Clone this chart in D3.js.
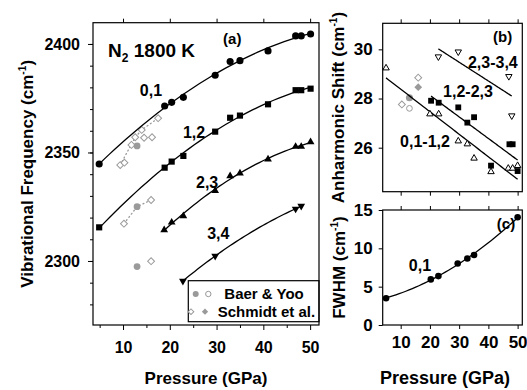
<!DOCTYPE html>
<html>
<head>
<meta charset="utf-8">
<script src="https://cdn.jsdelivr.net/npm/d3@7"></script>
<style>
  body { margin: 0; background: #fff; }
  svg { display: block; }
</style>
</head>
<body>
<div id="chart"></div>
<script>
// ---- panel (a): vibrational frequency (cm-1) vs pressure (GPa), N2 at 1800 K
const pressA = [4.9, 18.9, 20.4, 22.9, 29.7, 32.9, 35.0, 41.0, 46.9, 48.1, 50.1];
const nu01 = [2344.7, 2371.4, 2373.1, 2375.4, 2385.6, 2391.9, 2392.3, 2396.8, 2403.7, 2403.7, 2404.6];
const nu12 = [2315.5, 2343.0, 2345.8, 2348.4, 2359.6, 2366.0, 2367.0, 2372.2, 2378.7, 2378.7, 2379.4];
const pressA23 = [18.8, 20.4, 22.9, 29.7, 32.9, 35.0, 41.0, 46.9, 48.1, 50.1];
const nu23 = [2314.3, 2317.8, 2320.7, 2332.4, 2339.2, 2340.4, 2346.9, 2352.7, 2352.7, 2354.8];
const pressA34 = [22.8, 29.7, 46.9, 48.1];
const nu34 = [2290.8, 2302.3, 2324.0, 2325.3];

// literature points (grey)
const baerP = [13.0, 13.0, 13.0];
const baerNu = [2353.0, 2325.0, 2297.4];
const schmidtP = [9.4, 10.3, 11.8, 12.6, 14.0, 14.5, 16.2, 17.5, 10.2, 16.0, 16.0];
const schmidtNu = [2344.2, 2345.3, 2353.5, 2357.0, 2360.4, 2356.8, 2357.0, 2365.8, 2317.2, 2328.1, 2299.9];
const schmidtDotUpP = [9.4, 12.6, 14.0, 17.5];
const schmidtDotUpNu = [2344.2, 2357.0, 2360.4, 2365.8];
const schmidtDotLoP = [10.2, 13.0, 16.0];
const schmidtDotLoNu = [2317.2, 2325.0, 2328.1];

// ---- panel (b): anharmonic shift (cm-1)
const pressB01 = [5.0, 20.0, 23.0, 29.7, 32.8, 35.1, 40.9, 46.8, 48.3, 50.0];
const shift01 = [29.24, 27.37, 27.37, 26.27, 26.15, 25.57, 25.02, 25.16, 25.16, 25.27];
const pressB12 = [20.4, 23.0, 29.7, 32.8, 35.1, 40.9, 47.2, 48.3, 50.0];
const shift12 = [27.91, 27.83, 27.64, 27.02, 27.24, 25.27, 26.14, 26.14, 25.05];
const pressB23 = [22.9, 29.7, 47.0, 48.0];
const shift23 = [29.70, 29.90, 28.90, 27.30];
const baerShiftP = [13.0, 13.0];
const baerShift = [28.03, 27.60];      // filled, open
const schmidtShiftP = [10.4, 16.0, 16.0];
const schmidtShift = [27.76, 28.85, 28.46]; // open, open, filled

// ---- panel (c): FWHM (cm-1) of 0,1
const pressC = [5.0, 20.3, 22.9, 29.5, 32.8, 35.1, 50.0];
const fwhm = [3.49, 5.95, 6.38, 8.02, 8.67, 9.13, 14.05];

// tick values
const pressTicks = [10, 20, 30, 40, 50];
const pressMinor = [5, 15, 25, 35, 45];
const nuTicks = [2300, 2350, 2400];
const shiftTicks = [26, 28, 30];
const fwhmTicks = [0, 5, 10, 15];

const FONT = '"Liberation Sans", Arial, Helvetica, sans-serif';
const GREY = '#9a9a9a';
const fmt = d3.format('d');

const svg = d3.select('#chart').append('svg')
  .attr('width', 527).attr('height', 390)
  .attr('font-family', FONT).attr('font-weight', 'bold');

// scales
const xa = d3.scaleLinear().domain([3.58, 51.9]).range([93, 319]);
const ya = d3.scaleLinear().domain([2270.5, 2409.8]).range([325, 22.7]);
const xb = d3.scaleLinear().domain([3.85, 51.6]).range([382.7, 522.3]);
const yb = d3.scaleLinear().domain([24.21, 31.06]).range([191.7, 23.3]);
const yc = d3.scaleLinear().domain([0, 15]).range([325, 210]);

// least squares polynomial fit
function polyfit(xs, ys, deg) {
  const n = deg + 1;
  const A = d3.range(n).map(i => d3.range(n).map(j => d3.sum(xs, x => Math.pow(x, i + j))));
  const b = d3.range(n).map(i => d3.sum(xs, (x, k) => Math.pow(x, i) * ys[k]));
  for (let i = 0; i < n; i++) {
    for (let r = i + 1; r < n; r++) {
      const f = A[r][i] / A[i][i];
      for (let c = i; c < n; c++) A[r][c] -= f * A[i][c];
      b[r] -= f * b[i];
    }
  }
  const coef = new Array(n).fill(0);
  for (let i = n - 1; i >= 0; i--) {
    let s = b[i];
    for (let c = i + 1; c < n; c++) s -= A[i][c] * coef[c];
    coef[i] = s / A[i][i];
  }
  return coef;
}

function fitCurve(xs, ys, deg) {
  const c = polyfit(xs, ys, deg);
  const lo = d3.min(xs), hi = d3.max(xs);
  return d3.range(41).map(i => {
    const x = lo + (hi - lo) * i / 40;
    return [x, c.reduce((s, a, k) => s + a * Math.pow(x, k), 0)];
  });
}

function drawFit(g, x, y, xs, ys, deg) {
  const line = d3.line().x(d => x(d[0])).y(d => y(d[1])).curve(d3.curveMonotoneX);
  g.append('path')
    .datum(fitCurve(xs, ys, deg))
    .attr('fill', 'none')
    .attr('stroke', '#000')
    .attr('stroke-width', 1.3)
    .attr('d', line);
}

function drawPoints(g, x, y, xs, ys, o) {
  g.append('g').selectAll('path')
    .data(xs.map((p, i) => [p, ys[i]]))
    .join('path')
    .attr('d', d3.symbol().type(o.type).size(o.size))
    .attr('transform', d => `translate(${x(d[0])},${y(d[1])}) rotate(${o.rotate || 0})`)
    .attr('fill', o.fill)
    .attr('stroke', o.stroke || 'none')
    .attr('stroke-width', o.sw || 1);
}

function styleAxis(g, size) {
  g.attr('font-family', FONT).attr('font-size', size).attr('font-weight', 'bold');
  g.select('.domain').remove();
  g.selectAll('line').attr('stroke', '#000');
}

function frame(x, y) {
  const [x0, x1] = x.range(), [y0, y1] = y.range();
  svg.append('rect')
    .attr('x', x0).attr('y', y1)
    .attr('width', x1 - x0).attr('height', y0 - y1)
    .attr('fill', 'none').attr('stroke', '#000').attr('stroke-width', 1.2);
}

function supLabel(g, tx, ty, main, size) {
  const t = g.append('text')
    .attr('transform', `translate(${tx},${ty}) rotate(-90)`)
    .attr('text-anchor', 'middle')
    .attr('font-size', size);
  t.append('tspan').text(main + ' (cm');
  t.append('tspan').attr('font-size', size * 0.6).attr('dy', -size * 0.42).text('-1');
  t.append('tspan').attr('dy', size * 0.42).text(')');
}

// ================= panel (a) =================
const ga = svg.append('g');

ga.append('g').attr('transform', 'translate(0,325)')
  .call(d3.axisBottom(xa).tickValues(pressMinor).tickSize(3).tickFormat(''))
  .call(g => styleAxis(g, 16));
ga.append('g').attr('transform', 'translate(0,325)')
  .call(d3.axisBottom(xa).tickValues(pressTicks).tickSize(5).tickPadding(12).tickFormat(fmt))
  .call(g => styleAxis(g, 16));
ga.append('g').attr('transform', 'translate(0,22.7)')
  .call(d3.axisTop(xa).tickValues(pressTicks).tickSize(4).tickFormat(''))
  .call(g => styleAxis(g, 16));
ga.append('g').attr('transform', 'translate(93,0)')
  .call(d3.axisLeft(ya).tickValues(d3.range(2280, 2410, 10)).tickSize(3).tickFormat(''))
  .call(g => styleAxis(g, 16));
ga.append('g').attr('transform', 'translate(93,0)')
  .call(d3.axisLeft(ya).tickValues(nuTicks).tickSize(5).tickPadding(8).tickFormat(fmt))
  .call(g => styleAxis(g, 16));
frame(xa, ya);

// grey literature points with dotted connectors
const dotted = d3.line().x(d => xa(d[0])).y(d => ya(d[1]));
[[schmidtDotUpP, schmidtDotUpNu], [schmidtDotLoP, schmidtDotLoNu]].forEach(([ps, vs]) => {
  ga.append('path')
    .datum(ps.map((p, i) => [p, vs[i]]))
    .attr('fill', 'none').attr('stroke', GREY).attr('stroke-width', 1.3)
    .attr('stroke-dasharray', '1,3').attr('stroke-linecap', 'round')
    .attr('d', dotted);
});
drawPoints(ga, xa, ya, schmidtP, schmidtNu, { type: d3.symbolSquare, size: 24, rotate: 45, fill: '#fff', stroke: GREY, sw: 1 });
drawPoints(ga, xa, ya, baerP, baerNu, { type: d3.symbolCircle, size: 36, fill: GREY });

// fits and measured points
drawFit(ga, xa, ya, pressA, nu01, 2);
drawFit(ga, xa, ya, pressA, nu12, 2);
drawFit(ga, xa, ya, pressA23, nu23, 2);
drawFit(ga, xa, ya, pressA34, nu34, 2);
drawPoints(ga, xa, ya, pressA, nu01, { type: d3.symbolCircle, size: 40, fill: '#000' });
drawPoints(ga, xa, ya, pressA, nu12, { type: d3.symbolSquare, size: 38, fill: '#000' });
drawPoints(ga, xa, ya, pressA23, nu23, { type: d3.symbolTriangle, size: 26, fill: '#000' });
drawPoints(ga, xa, ya, pressA34, nu34, { type: d3.symbolTriangle, size: 26, rotate: 180, fill: '#000' });

// annotations
const tN = ga.append('text').attr('x', xa(6.8)).attr('y', ya(2394.0)).attr('font-size', 19);
tN.append('tspan').text('N');
tN.append('tspan').attr('font-size', 12).attr('dy', 5).text('2');
tN.append('tspan').attr('dy', -5).text(' 1800 K');
ga.append('text').attr('x', xa(31.4)).attr('y', ya(2400.0)).attr('font-size', 15).text('(a)');
ga.append('text').attr('x', xa(13.6)).attr('y', ya(2376.0)).attr('font-size', 16).text('0,1');
ga.append('text').attr('x', xa(22.8)).attr('y', ya(2356.7)).attr('font-size', 16).text('1,2');
ga.append('text').attr('x', xa(25.6)).attr('y', ya(2333.6)).attr('font-size', 16).text('2,3');
ga.append('text').attr('x', xa(28.0)).attr('y', ya(2310.1)).attr('font-size', 16).text('3,4');

// legend
const lg = ga.append('g');
lg.append('rect').attr('x', 188.3).attr('y', 280.7).attr('width', 130.7).attr('height', 41)
  .attr('fill', '#fff').attr('stroke', '#000').attr('stroke-width', 1.2);
lg.append('circle').attr('cx', 195.7).attr('cy', 294).attr('r', 3).attr('fill', GREY);
lg.append('circle').attr('cx', 208.3).attr('cy', 294).attr('r', 2.7).attr('fill', '#fff').attr('stroke', GREY);
lg.append('path').attr('d', d3.symbol().type(d3.symbolSquare).size(16)())
  .attr('transform', 'translate(191,311.7) rotate(45)').attr('fill', '#fff').attr('stroke', GREY);
lg.append('path').attr('d', d3.symbol().type(d3.symbolSquare).size(20)())
  .attr('transform', 'translate(205,311.7) rotate(45)').attr('fill', GREY);
lg.append('text').attr('x', 224.3).attr('y', 298.5).attr('font-size', 15).text('Baer & Yoo');
lg.append('text').attr('x', 217.7).attr('y', 316.7).attr('font-size', 15).text('Schmidt et al.');

ga.append('text').attr('x', 206).attr('y', 383.5).attr('text-anchor', 'middle').attr('font-size', 17).text('Pressure (GPa)');
supLabel(ga, 33, 173.9, 'Vibrational Frequency', 17);

// ================= panel (b) =================
const gb = svg.append('g');
gb.append('g').attr('transform', 'translate(0,191.7)')
  .call(d3.axisBottom(xb).tickValues(pressTicks).tickSize(4).tickFormat(''))
  .call(g => styleAxis(g, 17));
gb.append('g').attr('transform', 'translate(0,23.3)')
  .call(d3.axisTop(xb).tickValues(pressTicks).tickSize(4).tickFormat(''))
  .call(g => styleAxis(g, 17));
gb.append('g').attr('transform', 'translate(382.7,0)')
  .call(d3.axisLeft(yb).tickValues(shiftTicks).tickSize(4).tickPadding(6).tickFormat(fmt))
  .call(g => styleAxis(g, 17));
frame(xb, yb);

drawPoints(gb, xb, yb, [schmidtShiftP[0], schmidtShiftP[1]], [schmidtShift[0], schmidtShift[1]],
  { type: d3.symbolSquare, size: 24, rotate: 45, fill: '#fff', stroke: GREY });
drawPoints(gb, xb, yb, [schmidtShiftP[2]], [schmidtShift[2]], { type: d3.symbolSquare, size: 30, rotate: 45, fill: GREY });
drawPoints(gb, xb, yb, [baerShiftP[0]], [baerShift[0]], { type: d3.symbolCircle, size: 40, fill: GREY });
drawPoints(gb, xb, yb, [baerShiftP[1]], [baerShift[1]], { type: d3.symbolCircle, size: 26, fill: '#fff', stroke: GREY });

drawFit(gb, xb, yb, pressB01, shift01, 1);
drawFit(gb, xb, yb, pressB12, shift12, 1);
drawFit(gb, xb, yb, pressB23, shift23, 1);
drawPoints(gb, xb, yb, pressB01, shift01, { type: d3.symbolTriangle, size: 18, fill: '#fff', stroke: '#000' });
drawPoints(gb, xb, yb, pressB12, shift12, { type: d3.symbolSquare, size: 34, fill: '#000' });
drawPoints(gb, xb, yb, pressB23, shift23, { type: d3.symbolTriangle, size: 18, rotate: 180, fill: '#fff', stroke: '#000' });

gb.append('text').attr('x', xb(41.6)).attr('y', yb(30.30)).attr('font-size', 15).text('(b)');
gb.append('text').attr('x', xb(33.0)).attr('y', yb(29.24)).attr('font-size', 16).text('2,3-3,4');
gb.append('text').attr('x', xb(24.5)).attr('y', yb(28.08)).attr('font-size', 16).text('1,2-2,3');
gb.append('text').attr('x', xb(9.8)).attr('y', yb(26.04)).attr('font-size', 16).text('0,1-1,2');
supLabel(gb, 344, 107.5, 'Anharmonic Shift', 17);

// ================= panel (c) =================
const gc = svg.append('g');
gc.append('g').attr('transform', 'translate(0,325)')
  .call(d3.axisBottom(xb).tickValues(pressTicks).tickSize(4).tickPadding(7).tickFormat(fmt))
  .call(g => styleAxis(g, 17));
gc.append('g').attr('transform', 'translate(0,210)')
  .call(d3.axisTop(xb).tickValues(pressTicks).tickSize(4).tickFormat(''))
  .call(g => styleAxis(g, 17));
gc.append('g').attr('transform', 'translate(382.7,0)')
  .call(d3.axisLeft(yc).tickValues(fwhmTicks).tickSize(4).tickPadding(6).tickFormat(fmt))
  .call(g => styleAxis(g, 17));
svg.append('rect').attr('x', 382.7).attr('y', 210).attr('width', 522.3 - 382.7).attr('height', 115)
  .attr('fill', 'none').attr('stroke', '#000').attr('stroke-width', 1.2);

drawFit(gc, xb, yc, pressC, fwhm, 2);
drawPoints(gc, xb, yc, pressC, fwhm, { type: d3.symbolCircle, size: 34, fill: '#000' });

gc.append('text').attr('x', xb(42.9)).attr('y', yc(12.52)).attr('font-size', 15).text('(c)');
gc.append('text').attr('x', xb(12.8)).attr('y', yc(7.04)).attr('font-size', 16).text('0,1');
gc.append('text').attr('x', 445).attr('y', 383.5).attr('text-anchor', 'middle').attr('font-size', 18).text('Pressure (GPa)');
supLabel(gc, 345, 267.5, 'FWHM', 17);
</script>
</body>
</html>
